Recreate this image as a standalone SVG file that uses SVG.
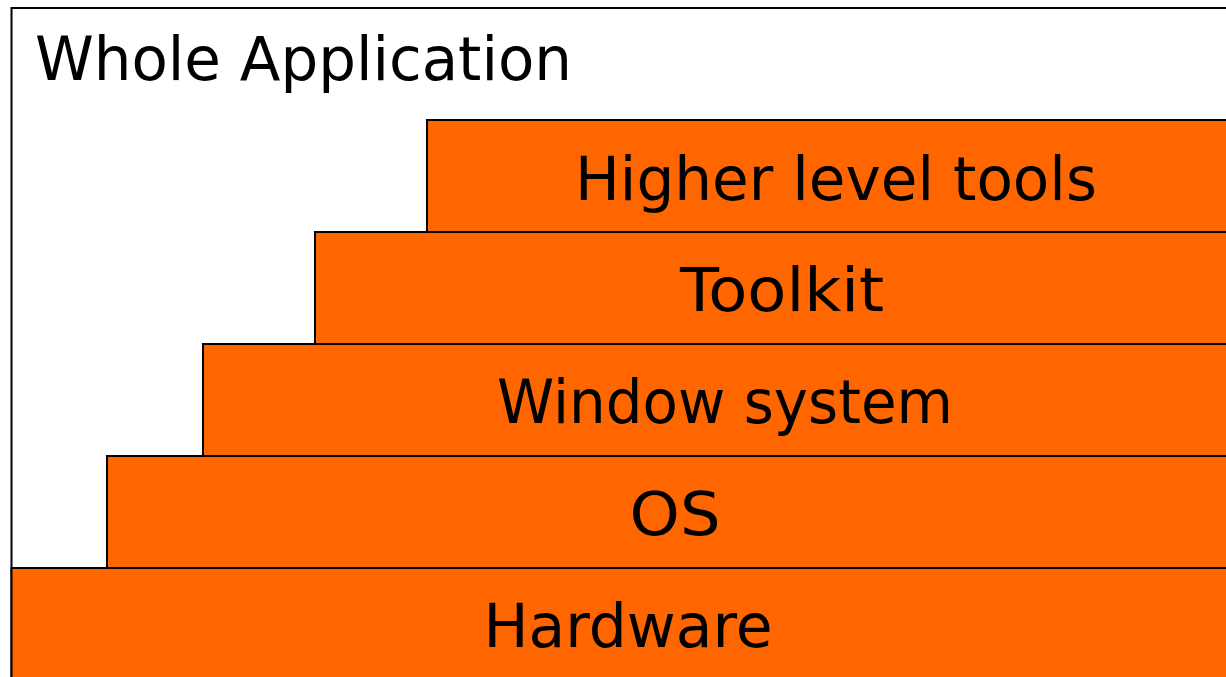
<svg xmlns="http://www.w3.org/2000/svg" width="1226" height="677" viewBox="0 0 1226 677">
<style>
.layer{fill:#ff6600;stroke:#000;stroke-width:2}
.t{font-family:"DejaVu Sans","Liberation Sans",sans-serif;font-size:60px;fill:#000}
.c{text-anchor:middle}
</style>
<rect width="1226" height="677" fill="#fff"/>
<g id="whole-application">
<rect x="11.5" y="8" width="1230" height="680" fill="#fff" stroke="#000" stroke-width="2"/>
<text class="t" x="35" y="80" textLength="537" lengthAdjust="spacingAndGlyphs">Whole Application</text>
</g>
<g id="higher-level-tools">
<rect class="layer" x="427" y="120" width="820" height="112"/>
<text class="t c" x="836" y="200" textLength="522" lengthAdjust="spacingAndGlyphs">Higher level tools</text>
</g>
<g id="toolkit">
<rect class="layer" x="315" y="232" width="930" height="112"/>
<text class="t c" x="782" y="311" textLength="204" lengthAdjust="spacingAndGlyphs">Toolkit</text>
</g>
<g id="window-system">
<rect class="layer" x="203" y="344" width="1040" height="112"/>
<text class="t c" x="725" y="423" textLength="456" lengthAdjust="spacingAndGlyphs">Window system</text>
</g>
<g id="os">
<rect class="layer" x="107" y="456" width="1140" height="112"/>
<text class="t c" x="675" y="535" textLength="91" lengthAdjust="spacingAndGlyphs">OS</text>
</g>
<g id="hardware">
<rect class="layer" x="11.5" y="568" width="1240" height="120"/>
<text class="t c" x="628" y="647" textLength="289" lengthAdjust="spacingAndGlyphs">Hardware</text>
</g>
<g id="connectors"></g>
</svg>
